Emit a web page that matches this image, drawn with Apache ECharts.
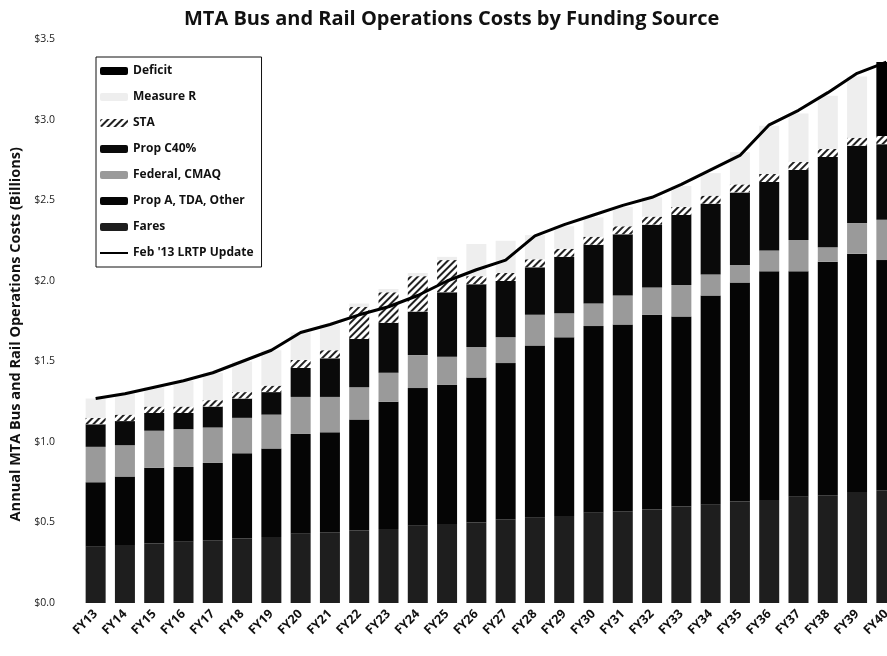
<!DOCTYPE html>
<html>
<head>
<meta charset="utf-8">
<script src="https://cdn.jsdelivr.net/npm/echarts@6/dist/echarts.min.js"></script>
<style>html,body{margin:0;padding:0;background:#fff;overflow:hidden}#c{width:905px;height:656px}</style>
</head>
<body>
<div id="c"></div>
<script>
const categories = ['FY13','FY14','FY15','FY16','FY17','FY18','FY19','FY20','FY21','FY22','FY23','FY24','FY25','FY26','FY27','FY28','FY29','FY30','FY31','FY32','FY33','FY34','FY35','FY36','FY37','FY38','FY39','FY40'];
const fares    = [0.35,0.36,0.37,0.38,0.39,0.40,0.41,0.43,0.44,0.45,0.46,0.48,0.49,0.50,0.52,0.53,0.54,0.56,0.57,0.58,0.60,0.61,0.63,0.64,0.66,0.67,0.69,0.70];
const propA    = [0.40,0.425,0.47,0.465,0.48,0.53,0.55,0.62,0.62,0.69,0.79,0.855,0.865,0.90,0.97,1.07,1.11,1.16,1.16,1.21,1.18,1.30,1.36,1.42,1.40,1.45,1.48,1.43];
const federal  = [0.22,0.195,0.23,0.235,0.22,0.22,0.21,0.23,0.22,0.20,0.18,0.205,0.175,0.19,0.16,0.19,0.15,0.14,0.18,0.17,0.195,0.13,0.11,0.13,0.195,0.09,0.19,0.25];
const propC    = [0.14,0.15,0.11,0.10,0.13,0.12,0.14,0.18,0.24,0.30,0.31,0.27,0.40,0.39,0.35,0.295,0.35,0.365,0.38,0.39,0.435,0.44,0.45,0.425,0.435,0.56,0.48,0.47];
const sta      = [0.04,0.04,0.04,0.04,0.04,0.04,0.04,0.05,0.05,0.20,0.19,0.22,0.20,0.05,0.05,0.05,0.05,0.05,0.05,0.05,0.05,0.05,0.05,0.05,0.05,0.05,0.05,0.05];
const measureR = [0.12,0.13,0.12,0.16,0.17,0.19,0.22,0.17,0.16,0.02,0.02,0.02,0.02,0.20,0.20,0.15,0.14,0.12,0.12,0.12,0.13,0.14,0.20,0.30,0.30,0.33,0.38,0];
const deficit  = [0,0,0,0,0,0,0,0,0,0,0,0,0,0,0,0,0,0,0,0,0,0,0,0,0,0,0,0.46];
const lrtp     = [1.27,1.30,1.34,1.38,1.43,1.50,1.57,1.68,1.73,1.79,1.84,1.91,2.00,2.07,2.13,2.28,2.35,2.41,2.47,2.52,2.60,2.69,2.78,2.97,3.06,3.17,3.29,3.36];
const yTicks   = [0,0.5,1.0,1.5,2.0,2.5,3.0,3.5];

const FONT = '"Open Sans", Lato, sans-serif';
const chart = echarts.init(document.getElementById('c'), null, {renderer:'canvas'});

function bar(name, data, color, extra) {
  return Object.assign({
    name: name, type: 'bar', stack: 'total', data: data, barWidth: 20,
    itemStyle: {color: color}
  }, extra || {});
}

chart.setOption({
  animation: false,
  backgroundColor: '#fff',
  title: {
    text: 'MTA Bus and Rail Operations Costs by Funding Source',
    left: 179, top: 4,
    textStyle: {fontFamily: FONT, fontSize: 20, fontWeight: 'bold', color: '#111'}
  },
  legend: {
    orient: 'vertical', left: 96, top: 57,
    backgroundColor: '#fff', borderColor: '#111', borderWidth: 1,
    padding: [8, 8, 8, 4],
    itemWidth: 28, itemHeight: 8, itemGap: 14,
    textStyle: {fontFamily: FONT, fontSize: 12, fontWeight: 'bold', color: '#111'},
    data: ['Deficit','Measure R','STA','Prop C40%','Federal, CMAQ','Prop A, TDA, Other','Fares',
      {name: "Feb '13 LRTP Update", icon: 'path://M0 0 H28 V2 H0 Z'}]
  },
  grid: {left: 76, right: 4, top: 39.5, bottom: 53, containLabel: false},
  xAxis: {
    type: 'category', data: categories,
    axisLine: {show: false}, axisTick: {show: false},
    axisLabel: {rotate: 45, fontFamily: FONT, fontSize: 12.5, fontWeight: 'bold', color: '#111', margin: 9, interval: 0}
  },
  yAxis: {
    type: 'value', min: 0, max: 3.5, interval: 0.5,
    splitLine: {show: false}, axisLine: {show: false}, axisTick: {show: false},
    axisLabel: {fontFamily: FONT, fontSize: 10.5, color: '#222', margin: 26,
      formatter: v => yTicks.indexOf(v) >= 0 ? '$' + v.toFixed(1) : ''},
    name: 'Annual MTA Bus and Rail Operations Costs (Billions)',
    nameLocation: 'middle', nameGap: 58,
    nameTextStyle: {fontFamily: FONT, fontSize: 14.5, fontWeight: 'bold', color: '#111', padding: [0, 26, 0, 0]}
  },
  series: [
    bar('Fares', fares, '#1e1e1e'),
    bar('Prop A, TDA, Other', propA, '#050505'),
    bar('Federal, CMAQ', federal, '#9a9a9a'),
    bar('Prop C40%', propC, '#0a0a0a'),
    bar('STA', sta, '#ffffff', {itemStyle: {color: '#ffffff', decal: {
      symbol: 'rect', color: '#222', dashArrayX: [1, 0], dashArrayY: [2, 3], rotation: -Math.PI / 4, symbolSize: 1
    }}}),
    bar('Measure R', measureR, '#eeeeee'),
    bar('Deficit', deficit, '#000000'),
    {
      name: "Feb '13 LRTP Update", type: 'line', data: lrtp, symbol: 'none', z: 5,
      lineStyle: {color: '#000', width: 3}, itemStyle: {color: '#000'}
    }
  ]
});
</script>
</body>
</html>
